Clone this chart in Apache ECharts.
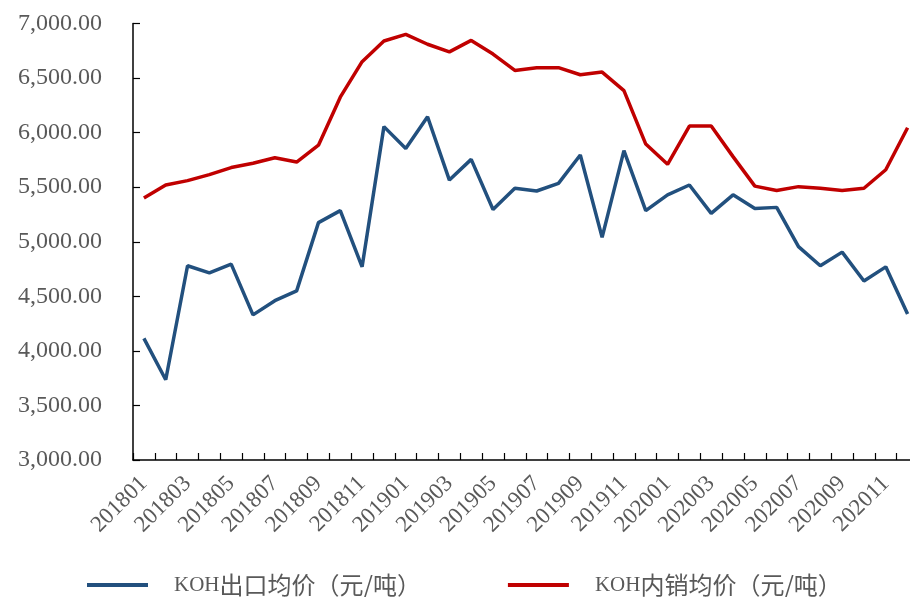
<!DOCTYPE html>
<html>
<head>
<meta charset="utf-8">
<script src="https://cdn.jsdelivr.net/npm/echarts@6/dist/echarts.min.js"></script>
<style>
  html, body { margin: 0; padding: 0; background: #ffffff; overflow: hidden; }
  #chart { width: 930px; height: 597px; }
</style>
</head>
<body>
<div id="chart"></div>
<script>
// Monthly KOH prices, Jan 2018 – Dec 2020
const months = [
  '201801','201802','201803','201804','201805','201806','201807','201808','201809','201810','201811','201812',
  '201901','201902','201903','201904','201905','201906','201907','201908','201909','201910','201911','201912',
  '202001','202002','202003','202004','202005','202006','202007','202008','202009','202010','202011','202012'
];

// Export average price (yuan/ton)
const exportPrice = [
  4115, 3735, 4780, 4715, 4795, 4330, 4460, 4550, 5175, 5285, 4770, 6055,
  5855, 6145, 5565, 5755, 5295, 5490, 5465, 5535, 5795, 5040, 5835, 5285,
  5430, 5520, 5260, 5430, 5305, 5315, 4955, 4780, 4905, 4640, 4770, 4337
];

// Domestic average price (yuan/ton)
const domesticPrice = [
  5400, 5520, 5560, 5615, 5680, 5720, 5770, 5730, 5885, 6325, 6650, 6840,
  6900, 6810, 6740, 6845, 6720, 6570, 6595, 6595, 6530, 6555, 6385, 5895,
  5710, 6060, 6060, 5780, 5510, 5470, 5505, 5490, 5470, 5490, 5660, 6045
];

const seriesNames = ['KOH出口均价（元/吨）', 'KOH内销均价（元/吨）'];

const serif = '"Liberation Serif", "DejaVu Serif", "Noto Sans CJK SC", serif';
const labelGray = '#595959';

const chart = echarts.init(document.getElementById('chart'));

chart.setOption({
  animation: false,
  backgroundColor: '#ffffff',
  grid: { left: 133, top: 23.5, width: 785.5, height: 436.5 },
  legend: {
    left: 82,
    top: 568,
    icon: 'rect',
    itemWidth: 61,
    itemHeight: 4,
    itemGap: 87,
    data: seriesNames,
    formatter: function (name) {
      return '{k|KOH}{c|' + name.slice(3) + '}';
    },
    textStyle: {
      color: labelGray,
      padding: [0, 0, 0, 21],
      rich: {
        k: { fontFamily: serif, fontSize: 21, color: labelGray, height: 26 },
        c: { fontFamily: '"Noto Sans CJK SC", sans-serif', fontSize: 24, color: labelGray, height: 26 }
      }
    }
  },
  xAxis: {
    type: 'category',
    data: months,
    boundaryGap: true,
    axisLine: { lineStyle: { color: '#000000', width: 1.5 } },
    axisTick: { show: true, inside: true, length: 7, interval: 0, lineStyle: { color: '#000000', width: 1.2 } },
    axisLabel: {
      interval: 1,
      rotate: 45,
      margin: 20,
      color: labelGray,
      fontFamily: serif,
      fontSize: 23
    },
    splitLine: { show: false }
  },
  yAxis: {
    type: 'value',
    min: 3000,
    max: 7000,
    interval: 500,
    axisLine: { show: true, lineStyle: { color: '#000000', width: 1.5 } },
    axisTick: { show: true, inside: true, length: 7, lineStyle: { color: '#000000', width: 1.2 } },
    splitLine: { show: false },
    axisLabel: {
      margin: 31,
      color: labelGray,
      fontFamily: serif,
      fontSize: 24,
      formatter: function (v) {
        return v.toLocaleString('en-US', { minimumFractionDigits: 2, maximumFractionDigits: 2 });
      }
    }
  },
  series: [
    {
      name: seriesNames[0],
      type: 'line',
      data: exportPrice,
      symbol: 'none',
      itemStyle: { color: '#22507e' },
      lineStyle: { color: '#22507e', width: 3.5 }
    },
    {
      name: seriesNames[1],
      type: 'line',
      data: domesticPrice,
      symbol: 'none',
      itemStyle: { color: '#c00000' },
      lineStyle: { color: '#c00000', width: 3.5 }
    }
  ]
});
</script>
</body>
</html>
